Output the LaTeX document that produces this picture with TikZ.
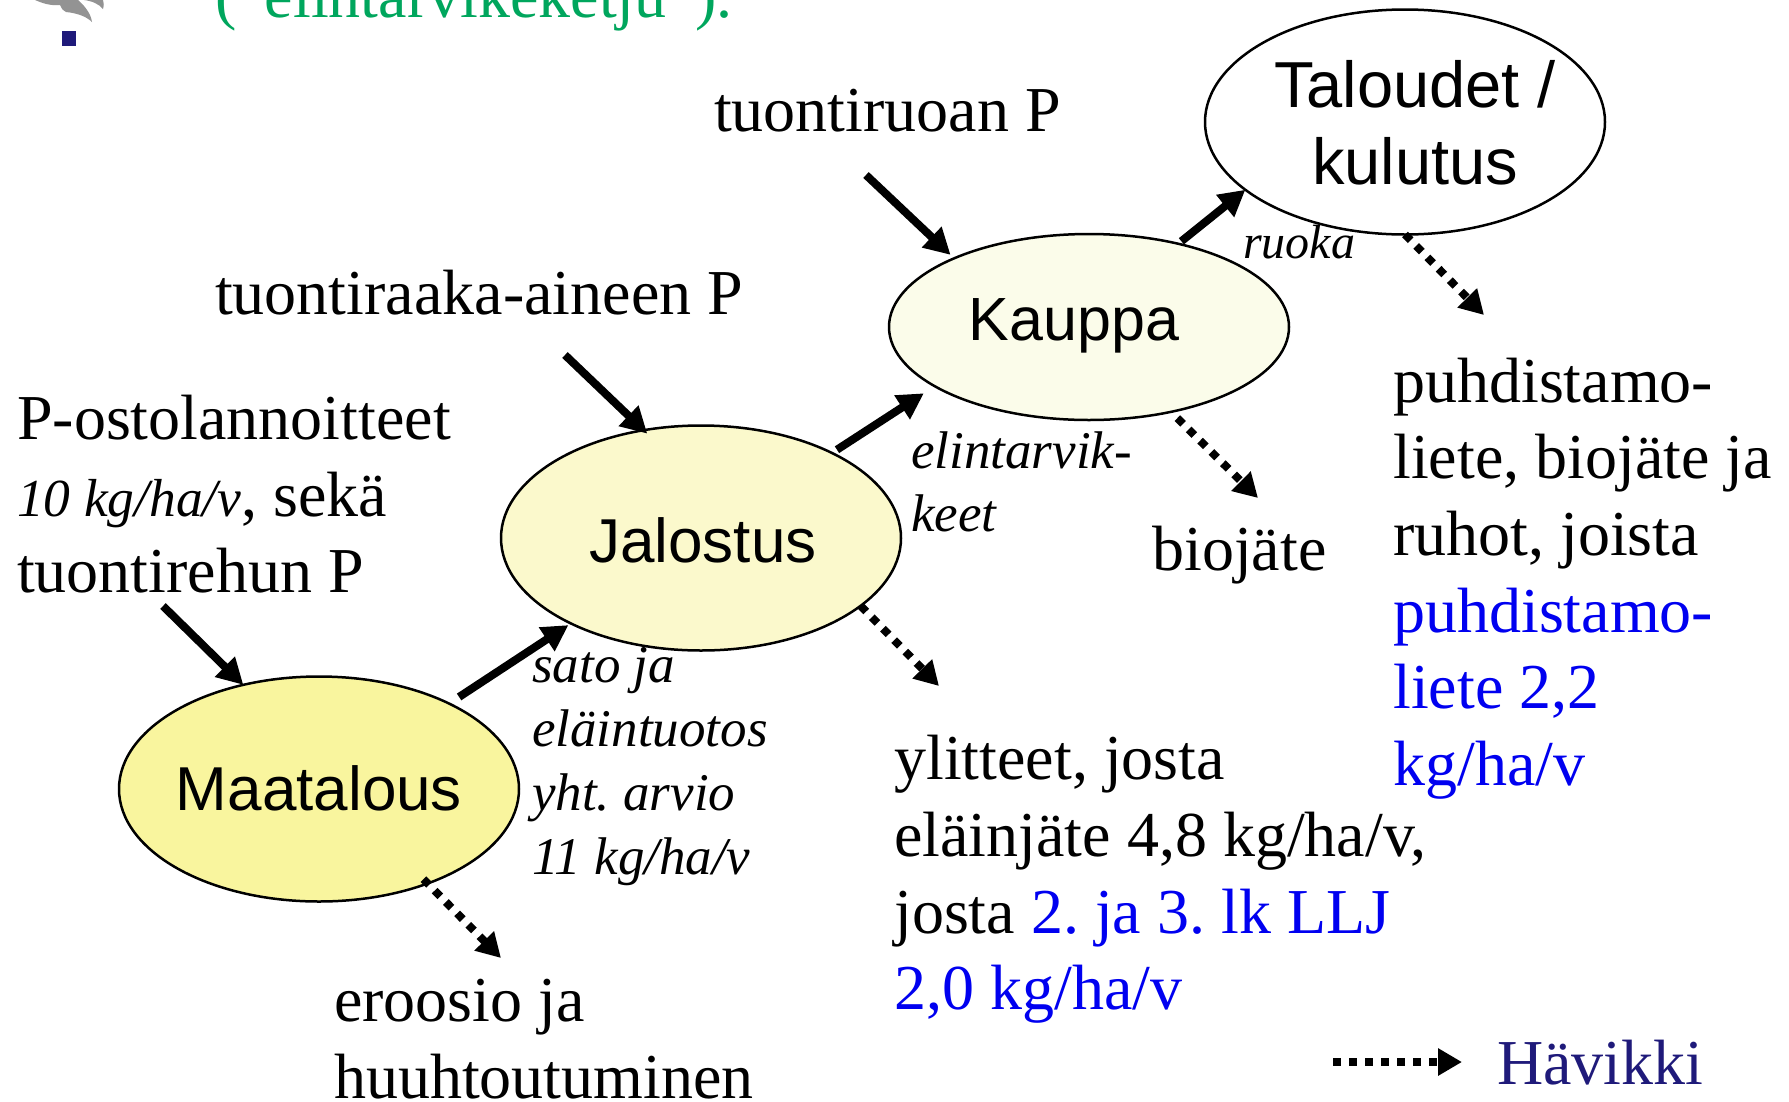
\documentclass[tikz,border=0pt]{standalone}
\usepackage{fontspec}
\setmainfont{Liberation Serif}
\setsansfont{Liberation Sans}
\usetikzlibrary{arrows.meta,shapes.geometric}
\definecolor{greentxt}{HTML}{00A65D}
\definecolor{bluetxt}{HTML}{0000F0}
\definecolor{navy}{HTML}{1F1A7A}
\definecolor{fillA}{HTML}{F9F59E}
\definecolor{fillB}{HTML}{FBF9CC}
\definecolor{fillC}{HTML}{FBFCEA}
\tikzset{
  stage/.style={ellipse,draw=black,line width=2.5pt,inner sep=0pt,outer sep=0pt,minimum width=400pt,minimum height=225pt},
  stagetxt/.style={font=\fontsize{62}{76.7}\selectfont\sffamily,inner sep=0pt,anchor=base},
  body/.style={font=\fontsize{64}{76.7}\selectfont,inner sep=0pt,anchor=base west,align=left},
  flowlab/.style={font=\fontsize{53}{63.5}\selectfont\itshape,inner sep=0pt,anchor=base west,align=left},
  flow/.style={line width=8pt,-{Triangle[length=26pt,width=27pt]}},
  loss/.style={line width=8pt,dash pattern=on 8pt off 8pt,-{Triangle[length=24pt,width=26pt]}},
}
\begin{document}
\frenchspacing
\begin{tikzpicture}[x=1pt,y=-1pt]
\useasboundingbox (0,0) rectangle (1789,1101);
\clip (0,0) rectangle (1789,1101);
\fill[white] (0,0) rectangle (1789,1101);
% top remains
\node[font=\fontsize{64}{76.7}\selectfont,text=greentxt,inner sep=0pt,anchor=base west] (head) at (215,17) {(”elintarvikeketju”).};
\fill[gray!85] (35,0) .. controls (42,3) and (50,6) .. (60,5) .. controls (62,9) and (63,11) .. (66,12) .. controls (76,13) and (86,16) .. (92,22) .. controls (91,14) and (85,6) .. (78,0) -- cycle;
\fill[gray!85] (84,0) .. controls (92,1) and (99,4) .. (103,9) .. controls (104,5) and (104,3) .. (103,0) -- cycle;
\fill[navy] (62,31) rectangle (76,46);
% stages
\node[stage,fill=fillA] (maat) at (319,789) {};
\node[stage,fill=fillB] (jal) at (701,538) {};
\node[stage,fill=fillC,minimum height=186pt] (kau) at (1089,327) {};
\node[stage,fill=white] (tal) at (1405,122) {};
\node[stagetxt] (maatt) at (319,810) {Maatalous};
\node[stagetxt] (jalt) at (703,562) {Jalostus};
\node[stagetxt,font=\fontsize{61}{76.7}\selectfont\sffamily] (kaut) at (1074,340) {Kauppa};
\node[stagetxt,font=\fontsize{65}{76.7}\selectfont\sffamily] (talt1) at (1415,107) {Taloudet /};
\node[stagetxt,font=\fontsize{65}{76.7}\selectfont\sffamily] (talt2) at (1415,184) {kulutus};
% texts
\node[body] (t1) at (714,131) {tuontiruoan P};
\node[body] (t2) at (215,314) {tuontiraaka-aineen P};
\node[body] (t3) at (17,439) {P-ostolannoitteet};
\node[body] (t4) at (17,516) {{\fontsize{53.5}{63}\selectfont\itshape 10 kg/ha/v}, sekä};
\node[body] (t5) at (17,592) {tuontirehun P};
\node[flowlab,font=\fontsize{48}{63.5}\selectfont\itshape] (f1) at (1243,258) {ruoka};
\node[flowlab] (f2a) at (911,468) {elintarvik-};
\node[flowlab] (f2b) at (911,531) {keet};
\node[flowlab] (f3a) at (532,682) {sato ja};
\node[flowlab] (f3b) at (532,746) {eläintuotos};
\node[flowlab] (f3c) at (532,810) {yht. arvio};
\node[flowlab] (f3d) at (532,874) {11 kg/ha/v};
\node[body] (b1) at (1152,570) {biojäte};
\node[body] (p1) at (1393,402) {puhdistamo-};
\node[body] (p2) at (1393,478) {liete, biojäte ja};
\node[body] (p3) at (1393,555) {ruhot, joista};
\node[body,text=bluetxt] (p4) at (1393,632) {puhdistamo-};
\node[body,text=bluetxt] (p5) at (1393,708) {liete 2,2};
\node[body,text=bluetxt] (p6) at (1393,785) {kg/ha/v};
\node[body] (y1) at (894,779) {ylitteet, josta};
\node[body] (y2) at (894,856) {eläinjäte 4,8 kg/ha/v,};
\node[body] (y3) at (894,933) {josta \textcolor{bluetxt}{2. ja 3. lk LLJ}};
\node[body,text=bluetxt] (y4) at (894,1009) {2,0 kg/ha/v};
\node[body] (e1) at (334,1021) {eroosio ja};
\node[body] (e2) at (334,1098) {huuhtoutuminen};
\node[body,text=navy] (hav) at (1497,1084) {Hävikki};
% free ends
\coordinate (s1) at (163,606);
\coordinate (s2) at (565,355);
\coordinate (s3) at (866,175);
\coordinate (e1end) at (501,958);
\coordinate (e2end) at (939,686);
\coordinate (e3end) at (1258,498);
\coordinate (e4end) at (1484,315);
\coordinate (legs) at (1333,1062);
\coordinate (lege) at (1462,1062);
% flows
\draw[flow,shorten <=12pt,shorten >=3pt] (maat) -- (jal);
\draw[flow,shorten <=6pt,shorten >=13pt] (jal.33.9) -- (kau.201);
\draw[flow,shorten <=4pt] (kau.43.2) -- (tal.203.3);
\draw[flow] (s1) -- (maat.126);
\draw[flow,shorten >=-5pt] (s2) -- (jal.118.2);
\draw[flow,shorten >=5pt] (s3) -- (kau.153.2);
\draw[loss,shorten <=-6pt] (maat.-41.3) -- (e1end);
\draw[loss] (jal.-23.8) -- (e2end);
\draw[loss,shorten <=9pt] (kau.-46) -- (e3end);
\draw[loss] (tal.-90) -- (e4end);
\draw[loss] (legs) -- (lege);
\end{tikzpicture}
\end{document}
